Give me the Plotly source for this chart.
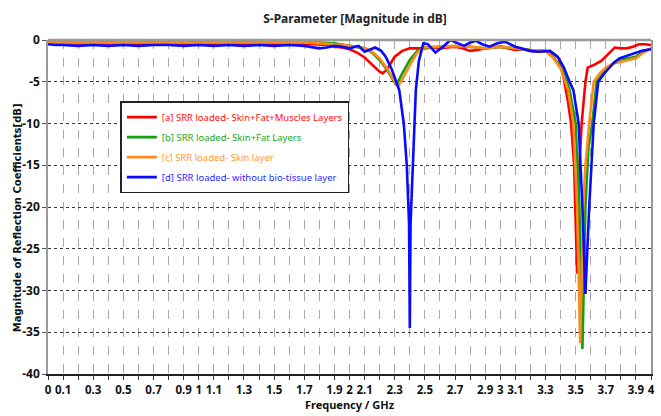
import plotly.graph_objects as go

# ---- series data: frequency (GHz) and |S11| (dB) ----
freq_a = [0, 0.05, 0.1, 0.2, 0.3, 0.4, 0.5, 0.6, 0.7, 0.8, 0.9, 1.0, 1.1, 1.2, 1.3, 1.4, 1.5,
          1.6, 1.7, 1.8, 1.85, 1.9, 1.95, 2.0, 2.05, 2.1, 2.15, 2.2, 2.22, 2.25, 2.3, 2.35,
          2.4, 2.45, 2.5, 2.55, 2.6, 2.65, 2.7, 2.75, 2.8, 2.85, 2.9, 2.95, 3.0, 3.05, 3.1,
          3.15, 3.2, 3.25, 3.3, 3.35, 3.39, 3.42, 3.45, 3.47, 3.49, 3.51, 3.525, 3.54, 3.565,
          3.58, 3.62, 3.67, 3.72, 3.76, 3.8, 3.84, 3.88, 3.92, 3.96, 4.0]
s11_a = [-0.1, -0.3, -0.4, -0.4, -0.4, -0.45, -0.4, -0.5, -0.4, -0.45, -0.4, -0.5, -0.45, -0.5,
         -0.4, -0.45, -0.5, -0.5, -0.45, -0.5, -0.6, -0.8, -0.9, -1.1, -1.5, -2.1, -3.0, -3.8,
         -4.0, -3.5, -2.0, -1.3, -1.0, -1.0, -1.0, -0.9, -1.0, -0.9, -0.8, -1.0, -1.3, -1.2,
         -1.0, -0.9, -0.8, -1.0, -1.2, -1.1, -1.3, -1.4, -1.3, -1.6, -2.2, -4.5, -7.5, -10,
         -15, -28.0, -15, -10, -5.0, -3.3, -3.0, -2.5, -1.6, -0.9, -1.0, -1.0, -0.8, -0.5,
         -0.5, -0.6]

freq_b = [0, 0.05, 0.1, 0.2, 0.3, 0.4, 0.5, 0.6, 0.7, 0.8, 0.9, 1.0, 1.1, 1.2, 1.3, 1.4, 1.5,
          1.6, 1.7, 1.8, 1.9, 2.0, 2.05, 2.1, 2.15, 2.2, 2.25, 2.31, 2.35, 2.4, 2.45, 2.5, 2.6,
          2.7, 2.8, 2.9, 3.0, 3.05, 3.1, 3.2, 3.3, 3.35, 3.4, 3.44, 3.46, 3.5, 3.525, 3.545,
          3.565, 3.585, 3.61, 3.64, 3.68, 3.72, 3.76, 3.8, 3.85, 3.9, 3.95, 4.0]
s11_b = [-0.3, -0.3, -0.2, -0.3, -0.3, -0.25, -0.3, -0.3, -0.2, -0.3, -0.3, -0.25, -0.3, -0.3,
         -0.2, -0.3, -0.3, -0.3, -0.25, -0.3, -0.4, -0.7, -0.8, -1.0, -1.5, -2.4, -3.6, -5.4,
         -4.0, -2.4, -1.3, -0.9, -0.8, -0.8, -0.8, -1.0, -0.8, -0.9, -1.0, -1.2, -1.3, -2.0,
         -3.2, -4.8, -6.0, -10, -20, -37.0, -20, -13, -10, -5.0, -4.0, -3.3, -2.6, -2.3,
         -2.2, -2.0, -1.4, -1.0]

freq_c = [0, 0.05, 0.1, 0.2, 0.3, 0.4, 0.5, 0.6, 0.7, 0.8, 0.9, 1.0, 1.1, 1.2, 1.3, 1.4, 1.5,
          1.6, 1.7, 1.8, 1.9, 2.0, 2.05, 2.1, 2.15, 2.2, 2.25, 2.32, 2.36, 2.4, 2.45, 2.5, 2.6,
          2.7, 2.8, 2.9, 3.0, 3.05, 3.1, 3.2, 3.3, 3.35, 3.4, 3.43, 3.45, 3.485, 3.51, 3.53,
          3.55, 3.565, 3.59, 3.62, 3.66, 3.7, 3.75, 3.8, 3.85, 3.9, 3.95, 4.0]
s11_c = [-0.3, -0.3, -0.3, -0.35, -0.3, -0.35, -0.3, -0.35, -0.3, -0.35, -0.3, -0.35, -0.3,
         -0.35, -0.3, -0.35, -0.3, -0.35, -0.3, -0.4, -0.5, -0.7, -0.8, -1.0, -1.4, -2.2,
         -3.4, -5.6, -4.4, -3.0, -1.5, -0.9, -0.8, -0.7, -0.8, -1.0, -0.8, -0.9, -1.0, -1.2,
         -1.3, -2.1, -3.4, -5.0, -6.0, -10, -20, -36.3, -20, -15, -10, -5.0, -4.0, -3.3,
         -2.8, -2.6, -2.4, -2.2, -1.5, -1.0]

freq_d = [0, 0.05, 0.1, 0.2, 0.3, 0.4, 0.5, 0.6, 0.7, 0.8, 0.9, 1.0, 1.1, 1.2, 1.3, 1.4, 1.5,
          1.6, 1.7, 1.8, 1.85, 1.9, 1.95, 2.0, 2.06, 2.1, 2.17, 2.21, 2.24, 2.28, 2.31, 2.33,
          2.36, 2.38, 2.395, 2.4, 2.405, 2.42, 2.43, 2.44, 2.46, 2.49, 2.52, 2.57, 2.62, 2.67,
          2.72, 2.76, 2.8, 2.84, 2.88, 2.93, 2.98, 3.03, 3.1, 3.2, 3.25, 3.3, 3.33, 3.38, 3.42,
          3.46, 3.485, 3.52, 3.545, 3.565, 3.59, 3.62, 3.65, 3.7, 3.75, 3.79, 3.84, 3.88,
          3.94, 4.0]
s11_d = [-0.5, -0.6, -0.6, -0.7, -0.6, -0.7, -0.6, -0.7, -0.6, -0.6, -0.7, -0.6, -0.7, -0.6,
         -0.7, -0.6, -0.7, -0.6, -0.7, -1.0, -0.9, -0.7, -0.8, -1.0, -0.7, -1.4, -0.9, -1.3,
         -2.0, -3.5, -5.0, -6.0, -10, -15, -22, -34.5, -22, -15, -10, -6.0, -2.5, -0.4, -0.5,
         -1.5, -0.8, 0.0, -0.4, -0.7, -0.3, -0.1, -0.5, -0.8, -0.4, -0.2, -0.8, -1.3, -1.4,
         -1.3, -1.3, -2.0, -3.2, -5.0, -6.0, -10, -20, -30.4, -20, -10, -5.0, -3.8, -2.8,
         -2.2, -1.9, -1.6, -1.3, -1.1]

series = [
    ("[a] SRR loaded- Skin+Fat+Muscles Layers", freq_a, s11_a, "#ff0000", "#ff1010"),
    ("[b] SRR loaded- Skin+Fat Layers", freq_b, s11_b, "#10a010", "#22a822"),
    ("[c] SRR loaded- Skin layer", freq_c, s11_c, "#ff8a1a", "#ff9a3a"),
    ("[d] SRR loaded- without bio-tissue layer", freq_d, s11_d, "#0a0aff", "#2a2aff"),
]

x_labels = [0, 0.1, 0.3, 0.5, 0.7, 0.9, 1, 1.1, 1.3, 1.5, 1.7, 1.9, 2, 2.1, 2.3, 2.5, 2.7,
            2.9, 3, 3.1, 3.3, 3.5, 3.7, 3.9, 4]
y_labels = [0, -5, -10, -15, -20, -25, -30, -35, -40]

FONT = "Noto Sans, DejaVu Sans, sans-serif"

fig = go.Figure()
for i, (name, fx, fy, color, text_color) in enumerate(series):
    fig.add_trace(go.Scatter(
        x=fx, y=fy, mode="lines",
        line=dict(color=color, width=2.6),
        name=f'<span style="color:{text_color}">{name}</span>',
        legendgroup=f"g{i}",
    ))

fig.update_layout(
    width=661, height=416,
    margin=dict(l=48, r=6, t=40, b=42),
    paper_bgcolor="white", plot_bgcolor="white",
    showlegend=True,
    title=dict(text="S-Parameter [Magnitude in dB]", x=0.537, xanchor="center",
               y=0.955, yanchor="middle",
               font=dict(family=FONT, size=12, color="#222222", weight="bold")),
    legend=dict(
        x=0.12, y=0.817, xanchor="left", yanchor="top",
        bgcolor="white", bordercolor="#222222", borderwidth=1.5,
        font=dict(family=FONT, size=9.5),
        itemwidth=30, tracegroupgap=1,
    ),
    xaxis=dict(
        range=[0, 4], tickmode="array", tickvals=x_labels,
        ticktext=[f"{v:g}" for v in x_labels], tickangle=0,
        showgrid=True, gridcolor="#a8a8a8", griddash="dash", gridwidth=1,
        minor=dict(tickmode="linear", tick0=0, dtick=0.1, showgrid=True,
                   gridcolor="#a8a8a8", griddash="dash", gridwidth=1,
                   ticks="outside", ticklen=4, tickcolor="#333333"),
        ticks="outside", ticklen=4, tickcolor="#333333",
        showline=True, linecolor="#222222", linewidth=1.5,
        zeroline=False,
        tickfont=dict(family=FONT, size=11.5, color="#111111", weight="bold"),
        title=dict(text="Frequency / GHz", standoff=6,
                   font=dict(family=FONT, size=11, color="#111111", weight="bold")),
    ),
    yaxis=dict(
        range=[-40, 0], tickmode="array", tickvals=y_labels,
        ticktext=[f"{v:g}" for v in y_labels],
        showgrid=True, gridcolor="#333333", griddash="dot", gridwidth=1,
        ticks="outside", ticklen=4, tickcolor="#555555",
        showline=True, linecolor="#999999", linewidth=1.5, mirror=True,
        zeroline=False,
        tickfont=dict(family=FONT, size=12, color="#111111", weight="bold"),
    ),
)

# y-axis caption, placed as an annotation so it can sit slightly below centre
fig.add_annotation(
    text="Magnitude of Reflection Coefficients[dB]", textangle=-90,
    xref="paper", yref="paper", x=-0.051, y=0.467, xanchor="center", yanchor="middle",
    showarrow=False,
    font=dict(family="DejaVu Sans, Verdana, sans-serif", size=10, color="#111111",
              weight="bold"),
)

# grey frame along the top of the plotting area
fig.add_shape(type="line", xref="paper", yref="paper", x0=0, x1=1, y0=1, y1=1,
              line=dict(color="#999999", width=2.5), layer="above")

fig.write_html("out.html")
